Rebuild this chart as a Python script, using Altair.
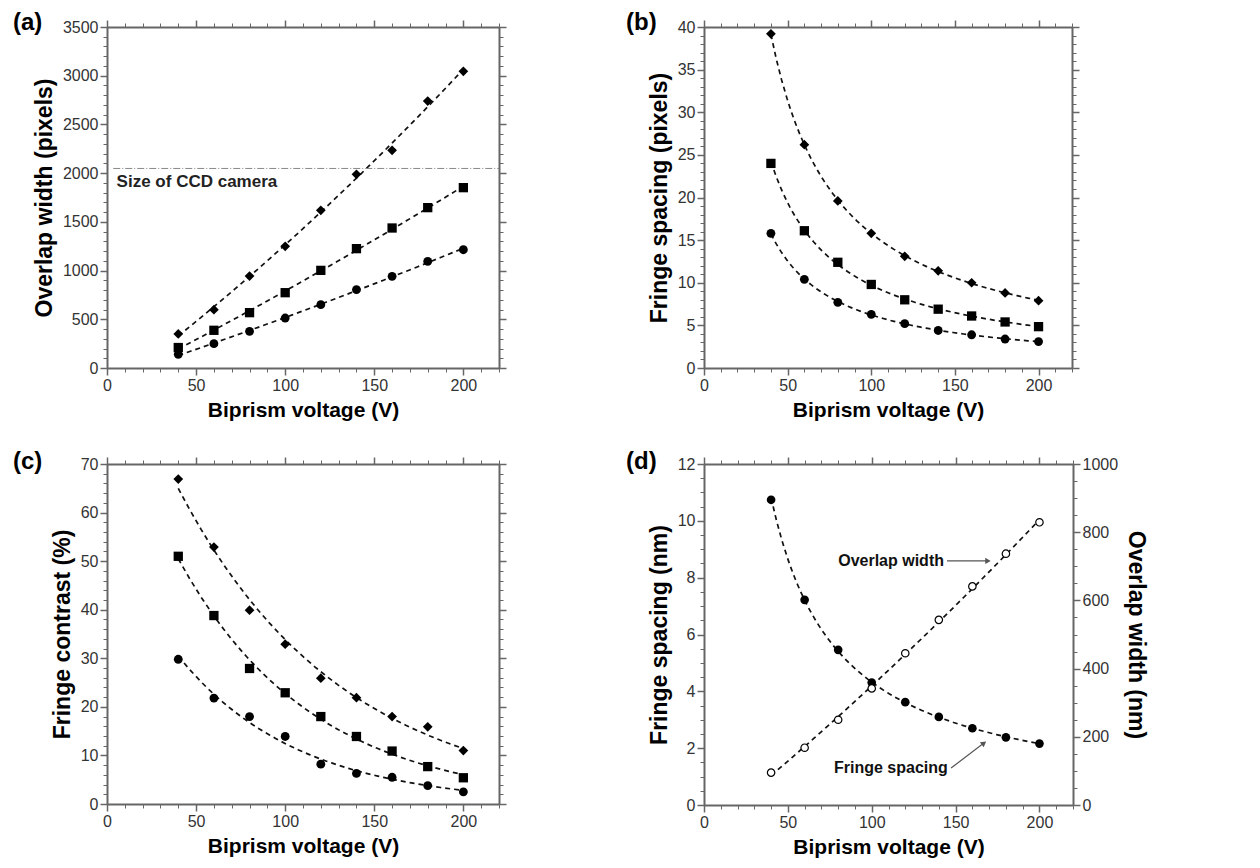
import altair as alt
import pandas as pd

# ---------------- data ----------------
V = [40, 60, 80, 100, 120, 140, 160, 180, 200]
SERIES = ["diamond", "square", "circle"]

A_DIAMOND = [350, 599, 944, 1249, 1618, 1988, 2234, 2740, 3045]
A_SQUARE = [210, 387, 568, 773, 1002, 1225, 1437, 1646, 1851]
A_CIRCLE = [140, 250, 376, 513, 650, 804, 941, 1095, 1214]

B_DIAMOND = [39.2, 26.2, 19.6, 15.8, 13.1, 11.4, 10.0, 8.8, 7.9]
B_SQUARE = [24.0, 16.1, 12.4, 9.8, 8.0, 6.9, 6.1, 5.4, 4.85]
B_CIRCLE = [15.8, 10.4, 7.7, 6.3, 5.2, 4.4, 3.9, 3.4, 3.1]

C_DIAMOND = [66.9, 52.9, 39.9, 32.9, 25.9, 21.9, 18.0, 15.9, 11.0]
C_SQUARE = [51.0, 38.8, 27.9, 22.9, 18.0, 13.9, 10.9, 7.7, 5.4]
C_CIRCLE = [29.8, 21.8, 18.0, 13.9, 8.2, 6.3, 5.5, 3.8, 2.5]

D_SPACING = [10.74, 7.22, 5.46, 4.31, 3.62, 3.10, 2.70, 2.38, 2.16]
D_OVERLAP = [95, 168, 250, 342, 445, 543, 641, 737, 829]

CCD_SIZE = [2048]
CCD_X = [3.5]
CCD_X2 = [220]
CCD_LABEL = ["Size of CCD camera"]
CCD_LABEL_X = [5.4]
CCD_LABEL_Y = [1905]

D_ANN_TEXT = ["Overlap width", "Fringe spacing"]
D_ANN_X = [80, 77.5]
D_ANN_Y = [8.59, 1.30]
D_ARROW_X = [144.9, 147.3]
D_ARROW_Y = [8.59, 1.30]
D_ARROW_X2 = [169.3, 166.9]
D_ARROW_Y2 = [8.59, 2.18]

X_MAJOR = [0, 50, 100, 150, 200]
X_MINOR = list(range(0, 221, 10))

FONT = "Liberation Sans"
GRAY = "#666666"
LABEL_C = "#333333"


def long_df(series_vals, names=SERIES):
    rows = []
    for name, vals in zip(names, series_vals):
        for v, y in zip(V, vals):
            rows.append({"V": v, "y": y, "s": name})
    return pd.DataFrame(rows)


def xscale():
    return alt.Scale(domain=[0, 220], nice=False, zero=False)


def yscale(dom):
    return alt.Scale(domain=dom, nice=False, zero=False)


def major_axis(orient, values, labels=False, title=None, title_size=21):
    kw = dict(orient=orient, values=values, tickSize=7, tickWidth=1.5,
              tickColor=GRAY, domain=True, domainColor=GRAY, domainWidth=2,
              grid=False, labels=labels, title=title)
    if labels:
        kw.update(labelFont=FONT, labelFontSize=16, labelColor=LABEL_C,
                  labelPadding=2, format="d", labelFlush=False)
    if title:
        kw.update(titleFont=FONT, titleFontSize=title_size, titleFontWeight="bold",
                  titleColor="black", titlePadding=6)
    return alt.Axis(**kw)


def minor_axis(orient, values):
    return alt.Axis(orient=orient, values=values, tickSize=4, tickWidth=1,
                    tickColor=GRAY, domain=False, grid=False, labels=False,
                    title=None)


def axis_layer(df, yfield, ydom, xaxis, yaxis):
    return alt.Chart(df).mark_point(opacity=0).encode(
        x=alt.X("V:Q", scale=xscale(), axis=xaxis),
        y=alt.Y(f"{yfield}:Q", scale=yscale(ydom), axis=yaxis),
    )


def fit_layer(df, ydom, method, order=None):
    kw = dict(groupby=["s"], method=method)
    if order is not None:
        kw["order"] = order
    return alt.Chart(df).transform_regression("V", "y", **kw).mark_line(
        color="#111111", strokeWidth=1.7, strokeDash=[5, 4]
    ).encode(
        x=alt.X("V:Q", scale=xscale(), axis=None),
        y=alt.Y("y:Q", scale=yscale(ydom), axis=None),
        detail="s:N",
    )


def point_layer(df, ydom, ymaj, ytitle):
    return alt.Chart(df).mark_point(filled=True, opacity=1, color="black").encode(
        x=alt.X("V:Q", scale=xscale(),
                axis=major_axis("bottom", X_MAJOR, labels=True, title="Biprism voltage (V)")),
        y=alt.Y("y:Q", scale=yscale(ydom),
                axis=major_axis("left", ymaj, labels=True, title=ytitle, title_size=23)),
        shape=alt.Shape("s:N", scale=alt.Scale(domain=SERIES, range=["diamond", "square", "circle"]),
                        legend=None),
        size=alt.Size("s:N", scale=alt.Scale(domain=SERIES, range=[95, 78, 72]), legend=None),
    )


def panel_label(text, dx, dy):
    return alt.Chart(pd.DataFrame({"t": [text]})).mark_text(
        font=FONT, fontSize=24, fontWeight="bold", color="black",
        align="left", baseline="middle"
    ).encode(text="t:N", x=alt.value(dx), y=alt.value(dy))


def standard_panel(df, ydom, ymaj, ymin, ytitle, method, order, label, ldy, w, h, extra=()):
    layers = [
        fit_layer(df, ydom, method, order),
        point_layer(df, ydom, ymaj, ytitle),
        axis_layer(df, "y", ydom, minor_axis("bottom", X_MINOR), minor_axis("left", ymin)),
        axis_layer(df, "y", ydom, minor_axis("top", X_MINOR), minor_axis("right", ymin)),
        axis_layer(df, "y", ydom, major_axis("top", X_MAJOR), major_axis("right", ymaj)),
        panel_label(label, -94 if label in ("(a)", "(c)") else -78, ldy),
    ] + list(extra)
    return alt.layer(*layers).resolve_axis(x="independent", y="independent").properties(
        width=w, height=h)


# ---------------- panel (a) ----------------
df_a = long_df([A_DIAMOND, A_SQUARE, A_CIRCLE])
ccd_df = pd.DataFrame({"x": CCD_X, "x2": CCD_X2, "y": CCD_SIZE})
ccd_rule = alt.Chart(ccd_df).mark_rule(color="#888888", strokeWidth=1, strokeDash=[7, 2, 1, 2]).encode(
    x=alt.X("x:Q", scale=xscale(), axis=None),
    x2="x2:Q",
    y=alt.Y("y:Q", scale=yscale([0, 3500]), axis=None),
)
ccd_txt_df = pd.DataFrame({"x": CCD_LABEL_X, "y": CCD_LABEL_Y, "t": CCD_LABEL})
ccd_text = alt.Chart(ccd_txt_df).mark_text(
    font=FONT, fontSize=17, fontWeight="bold", color="#222222", align="left", baseline="middle"
).encode(
    x=alt.X("x:Q", scale=xscale(), axis=None),
    y=alt.Y("y:Q", scale=yscale([0, 3500]), axis=None),
    text="t:N",
)
pa = standard_panel(df_a, [0, 3500], list(range(0, 3501, 500)), list(range(0, 3501, 100)),
                    "Overlap width (pixels)", "poly", 2, "(a)", -4, 392, 341,
                    extra=[ccd_rule, ccd_text])

# ---------------- panel (b) ----------------
df_b = long_df([B_DIAMOND, B_SQUARE, B_CIRCLE])
pb = standard_panel(df_b, [0, 40], list(range(0, 41, 5)), list(range(0, 41, 1)),
                    "Fringe spacing (pixels)", "pow", None, "(b)", -4, 368, 341)

# ---------------- panel (c) ----------------
df_c = long_df([C_DIAMOND, C_SQUARE, C_CIRCLE])
pc = standard_panel(df_c, [0, 70], list(range(0, 71, 10)), list(range(0, 71, 2)),
                    "Fringe contrast (%)", "exp", None, "(c)", -2, 392, 340)

# ---------------- panel (d) ----------------
df_ds = long_df([D_SPACING], names=["spacing"])
df_do = long_df([D_OVERLAP], names=["overlap"])
LEFT_D = [0, 12]
RIGHT_D = [0, 1000]
left_maj = list(range(0, 13, 2))
left_min = [i * 0.5 for i in range(0, 25)]
right_maj = list(range(0, 1001, 200))
right_min = list(range(0, 1001, 50))

d_fit_s = fit_layer(df_ds, LEFT_D, "pow", None)
d_fit_o = fit_layer(df_do, RIGHT_D, "poly", 2)
d_pts_s = alt.Chart(df_ds).mark_point(filled=True, opacity=1, color="black", size=75, shape="circle").encode(
    x=alt.X("V:Q", scale=xscale(),
            axis=major_axis("bottom", X_MAJOR, labels=True, title="Biprism voltage (V)")),
    y=alt.Y("y:Q", scale=yscale(LEFT_D),
            axis=major_axis("left", left_maj, labels=True, title="Fringe spacing (nm)", title_size=23)),
)
d_pts_o = alt.Chart(df_do).mark_point(filled=True, fill="white", stroke="black", strokeWidth=1.2,
                                       opacity=1, size=55, shape="circle").encode(
    x=alt.X("V:Q", scale=xscale(), axis=major_axis("top", X_MAJOR)),
    y=alt.Y("y:Q", scale=yscale(RIGHT_D),
            axis=major_axis("right", right_maj, labels=True, title="Overlap width (nm)", title_size=23)),
)
ann_df = pd.DataFrame({"x": D_ANN_X, "y": D_ANN_Y, "t": D_ANN_TEXT})
d_ann = alt.Chart(ann_df).mark_text(
    font=FONT, fontSize=16, fontWeight="bold", color="#111111", align="left", baseline="middle"
).encode(
    x=alt.X("x:Q", scale=xscale(), axis=None),
    y=alt.Y("y:Q", scale=yscale(LEFT_D), axis=None),
    text="t:N",
)
arr_df = pd.DataFrame({"x": D_ARROW_X, "y": D_ARROW_Y, "x2": D_ARROW_X2, "y2": D_ARROW_Y2,
                       "k": ["o", "f"]})
d_arrow_lines = alt.Chart(arr_df).mark_rule(color="#555555", strokeWidth=1.2).encode(
    x=alt.X("x:Q", scale=xscale(), axis=None),
    y=alt.Y("y:Q", scale=yscale(LEFT_D), axis=None),
    x2="x2:Q", y2="y2:Q",
)
d_head_o = alt.Chart(arr_df[arr_df.k == "o"]).mark_point(
    shape="triangle-right", filled=True, color="#555555", size=40, opacity=1).encode(
    x=alt.X("x2:Q", scale=xscale(), axis=None),
    y=alt.Y("y2:Q", scale=yscale(LEFT_D), axis=None),
)
d_head_f = alt.Chart(arr_df[arr_df.k == "f"]).mark_point(
    shape="triangle-right", filled=True, color="#555555", size=40, opacity=1, angle=323).encode(
    x=alt.X("x2:Q", scale=xscale(), axis=None),
    y=alt.Y("y2:Q", scale=yscale(LEFT_D), axis=None),
)
pd_ = alt.layer(
    d_fit_s, d_fit_o, d_pts_s, d_pts_o,
    axis_layer(df_ds, "y", LEFT_D, minor_axis("bottom", X_MINOR), minor_axis("left", left_min)),
    axis_layer(df_do, "y", RIGHT_D, minor_axis("top", X_MINOR), minor_axis("right", right_min)),
    d_ann, d_arrow_lines, d_head_o, d_head_f,
    panel_label("(d)", -78, -2),
).resolve_axis(x="independent", y="independent").resolve_scale(y="independent").properties(
    width=369, height=341)

row1 = alt.hconcat(pa, pb, spacing=119)
row2 = alt.hconcat(pc, pd_, spacing=119)
chart = alt.vconcat(row1, row2, spacing=30).properties(
    padding={"left": 5, "top": 3, "right": 5, "bottom": 5}
).configure_view(strokeWidth=0)

chart.save("out.html", embed_options={"renderer": "svg", "actions": False})
